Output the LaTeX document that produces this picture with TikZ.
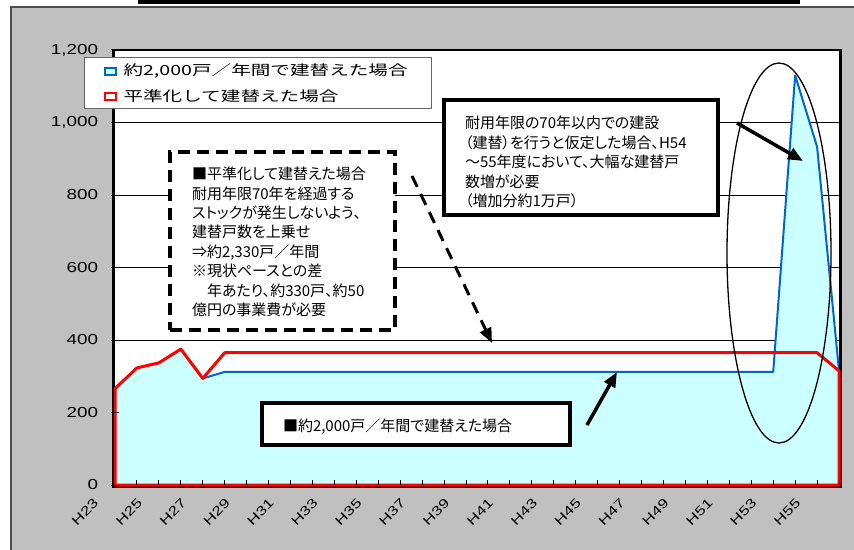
\documentclass[tikz,border=0pt]{standalone}
\usepackage{fontspec}
\setmainfont{Noto Sans CJK JP}
\newfontfamily\numfont[FakeStretch=1.3]{Liberation Sans}
\newfontfamily\legfont[FakeStretch=1.4]{Noto Sans CJK JP}
\newfontfamily\notefont[RawFeature=+palt]{Noto Sans CJK JP}
\usetikzlibrary{arrows.meta, positioning}
\definecolor{panelgray}{HTML}{C0C0C0}
\definecolor{areacyan}{HTML}{CCFFFF}
\definecolor{lineblue}{HTML}{0066CC}

\begin{document}
\begin{tikzpicture}[
        x=1pt, y=-1pt, >={Triangle[length=15pt,width=12pt]},
        every node/.style={inner sep=0pt, outer sep=0pt},
        notebox/.style={draw, fill=white, line width=3.5pt},
        note/.style={anchor=north west, align=left, font=\notefont\fontsize{15}{19.5}\selectfont},
        legkey/.style={minimum width=11pt, minimum height=7pt, line width=2pt},
        legtext/.style={anchor=west, font=\legfont\fontsize{14}{16}\selectfont},
        ylab/.style={anchor=east, font=\numfont\fontsize{14.5}{16}\selectfont},
        xlab/.style={rotate=45, font=\numfont\fontsize{13}{14}\selectfont},
        gridline/.style={line width=0.8pt},
        callout/.style={->, line width=3.5pt},
        ]
        \useasboundingbox (0,0) rectangle (854,549);

        % background panel and plot area
        \fill[panelgray] (11,7) rectangle (870,560);
        \draw[black!70, line width=1.2pt] (11,560) -- (11,7) -- (870,7);
        \fill (138,0) rectangle (800,4);
        \fill[white] (115,50) rectangle (840,485);

        % series (category i, value v)
        \begin{scope}[shift={(115,485)}, x=21.94pt, y=0.3625pt]
          \foreach \v in {200,400,...,1000}
            \draw[gridline] (0,\v) -- (33,\v);
          \fill[areacyan] (0,0) -- (0,266) -- (1,323) -- (2,337) -- (3,375) -- (4,294)
            -- (5,312) -- (30,312) -- (31,1130) -- (32,933) -- (33,315) -- (33,0) -- cycle;
          \draw[lineblue, line width=2pt, line join=round] (4,294) -- (5,312) -- (30,312)
            -- (31,1130) -- (32,933) -- (33,315);
        \end{scope}
        \draw[line width=2.5pt] (113.5,50) rectangle (840.5,486.5);
        \begin{scope}[shift={(115,485)}, x=21.94pt, y=0.3625pt]
          \draw[red, line width=3pt, line join=round] (0,0) -- (0,266) -- (1,323) -- (2,337)
            -- (3,375) -- (4,294) -- (5,365) -- (32,365) -- (33,315) -- (33,0) -- cycle;
          \foreach \i in {1,...,33}
            \draw[line width=1pt] (\i,0) -- (\i,14);
        \end{scope}

        % axis labels
        \foreach \v/\t in {0/0,200/200,400/400,600/600,800/800,1000/{1,000},1200/{1,200}} {
          \draw[line width=1pt] (111,{485-\v*0.3625}) -- (119,{485-\v*0.3625});
          \node[ylab] (ylab_\v) at (98,{485-\v*0.3625}) {\t};
        }
        \foreach \i in {0,...,16} {
          \pgfmathtruncatemacro\yr{23+2*\i}
          \node[xlab] (xlab_\yr) at ({115+2*\i*21.94-30},512) {H\yr};
        }

        % legend
        \node[draw=black!60, line width=0.8pt, fill=white, minimum width=347pt, minimum height=51pt]
          (leg_box) at (257.5,82.5) {};
        \node[legkey, draw=lineblue, fill=areacyan] (key_pace) at (110,71) {};
        \node[legkey, draw=red, fill=white] (key_level) at (110,96.5) {};
        \node[legtext, right=8pt of key_pace] (leg_pace) {約2,000戸／年間で建替えた場合};
        \node[legtext, right=8pt of key_level] (leg_level) {平準化して建替えた場合};

        % peak marker
        \draw[line width=1.3pt] (779,253) ellipse [x radius=52, y radius=190];

        % notes
        \node[notebox, line width=4pt, minimum width=274pt, minimum height=115pt]
          (box_life) at (581,157.5) {};
        \node[note] (text_life) at (465,116)
          {耐用年限の70年以内での建設\\（建替）を行うと仮定した場合、H54\\～55年度において、大幅な建替戸\\数増が必要\\（増加分約1万戸）};
        \node[notebox, dash pattern=on 12pt off 7pt, minimum width=225pt, minimum height=178pt]
          (box_level) at (282.5,241) {};
        \node[note, font=\notefont\fontsize{15}{19.4}\selectfont] (text_level) at (192,167)
          {■平準化して建替えた場合\\耐用年限70年を経過する\\ストックが発生しないよう、\\建替戸数を上乗せ\\⇒約2,330戸／年間\\※現状ペースとの差\\　年あたり、約330戸、約50\\億円の事業費が必要};
        \node[notebox, minimum width=308pt, minimum height=42pt] (box_pace) at (416,424) {};
        \node[note, anchor=west] (text_pace) at (283,427) {■約2,000戸／年間で建替えた場合};

        % pointers
        \coordinate (level_from) at (412,176);
        \coordinate (level_to) at (492,343);
        \coordinate (pace_from) at (587,425);
        \coordinate (pace_to) at (617,372);
        \coordinate (peak_from) at (737,123);
        \coordinate (peak_to) at (803,161);
        \path[callout] (level_from) edge[line width=3pt, dash pattern=on 12pt off 8pt] (level_to)
        (pace_from) edge (pace_to)
        (peak_from) edge (peak_to);
      \end{tikzpicture}
\end{document}
